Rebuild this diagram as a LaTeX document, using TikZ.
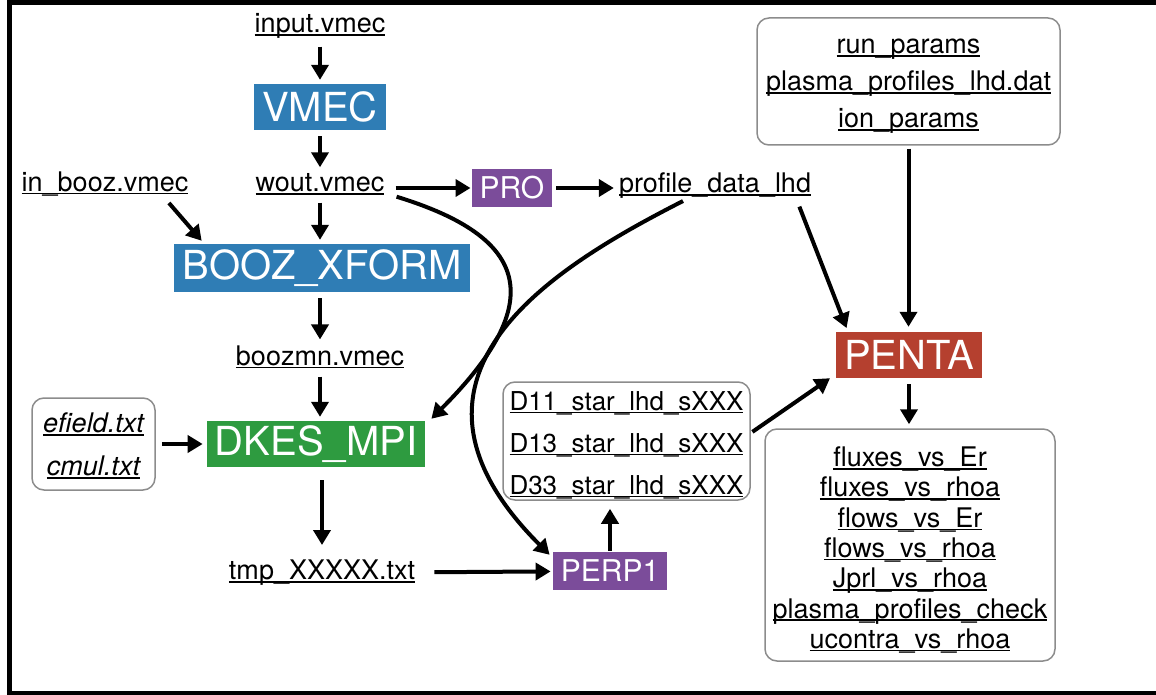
\documentclass[tikz,border=0pt]{standalone}
\usepackage{fontspec}
\setmainfont{TeX Gyre Heros}
\usetikzlibrary{arrows.meta,positioning}
\definecolor{vmecblue}{RGB}{47,125,181}
\definecolor{dkesgreen}{RGB}{46,155,64}
\definecolor{propurple}{RGB}{123,76,154}
\definecolor{pentared}{RGB}{181,64,47}
\newcommand{\fname}[1]{\setbox0\hbox{#1}\rlap{\rule[-3pt]{\wd0}{1.6pt}}\box0}
\tikzset{
    file/.style={
    font=\fontsize{27}{30}\selectfont, inner sep=2pt
    },
    filelist/.style={
    align=center, inner sep=0pt
    },
    prog/.style={
    rectangle, fill=#1, text=white, font=\fontsize{40}{40}\selectfont,
    minimum height=46pt, inner xsep=8pt, inner ysep=0pt
    },
    smallprog/.style={
    prog=#1, font=\fontsize{30}{30}\selectfont, minimum height=38pt
    },
    filebox/.style={
    rectangle, rounded corners=12pt, draw=black!45, line width=1.5pt,
    inner sep=0pt
    },
    flow/.style={
    -{Triangle[length=15pt,width=17pt]}, line width=4pt,
    shorten <=6pt, shorten >=4pt
    },
}
\begin{document}
\begin{tikzpicture}[x=1pt, y=-1pt]
  \useasboundingbox (0,0) rectangle (1156,695);
  \clip (0,0) rectangle (1156,695);
  \draw[line width=5pt] (1170,2.5) -- (9,2.5) -- (9,693) -- (1170,693);

  % programs
  \node[prog=vmecblue] (VMEC) at (320,107) {VMEC};
  \node[prog=vmecblue, minimum height=48pt] (BOOZ) at (322,268) {BOOZ\_XFORM};
  \node[prog=dkesgreen] (DKES) at (316,444) {DKES\_MPI};
  \node[smallprog=propurple] (PRO) at (512,188) {PRO};
  \node[smallprog=propurple] (PERP) at (610,571) {PERP1};
  \node[prog=pentared] (PENTA) at (909,355) {PENTA};

  % files
  \node[file] (input) at (320,26) {\fname{input.vmec}};
  \node[file] (wout) at (320,184) {\fname{wout.vmec}};
  \node[file] (inbooz) at (105,184) {\fname{in\_booz.vmec}};
  \node[file] (boozmn) at (320,357) {\fname{boozmn.vmec}};
  \node[file] (tmp) at (322,573) {\fname{tmp\_XXXXX.txt}};
  \node[file] (profile) at (715,186) {\fname{profile\_data\_lhd}};

  \node[filebox, minimum width=123pt, minimum height=92pt] (EF) at (93.5,444) {};
  \node[filelist, font=\fontsize{27}{43}\selectfont\itshape] (EFlist)
    at ([yshift=-2pt]EF.center) {\fname{efield.txt}\\\fname{cmul.txt}};
  \node[filebox, minimum width=303pt, minimum height=127pt] (RUN) at (908.5,81.5) {};
  \node[filelist, font=\fontsize{27}{37}\selectfont] (RUNlist)
    at ([yshift=-5pt]RUN.center)
    {\fname{run\_params}\\\fname{plasma\_profiles\_lhd.dat}\\\fname{ion\_params}};
  \node[filebox, minimum width=247pt, minimum height=118pt] (DSTAR) at (626.5,441) {};
  \node[filelist, font=\fontsize{26}{42}\selectfont] (DSTARlist)
    at ([yshift=-4pt]DSTAR.center)
    {\fname{D11\_star\_lhd\_sXXX}\\\fname{D13\_star\_lhd\_sXXX}\\\fname{D33\_star\_lhd\_sXXX}};
  \node[filebox, minimum width=290pt, minimum height=232pt] (OUT) at (910,545) {};
  \node[filelist, font=\fontsize{27}{30.3}\selectfont] (OUTlist)
    at ([yshift=-5pt]OUT.center)
    {\fname{fluxes\_vs\_Er}\\\fname{fluxes\_vs\_rhoa}\\\fname{flows\_vs\_Er}\\
     \fname{flows\_vs\_rhoa}\\\fname{Jprl\_vs\_rhoa}\\\fname{plasma\_profiles\_check}\\
     \fname{ucontra\_vs\_rhoa}};

  % data flow
  \draw[flow] (input) -- (VMEC);
  \draw[flow] (VMEC) -- (wout);
  \draw[flow] (wout) -- (wout |- BOOZ.north);
  \draw[flow] ([xshift=60pt]inbooz.south) -- ([xshift=30pt]BOOZ.north west);
  \draw[flow] (boozmn |- BOOZ.south) -- (boozmn);
  \draw[flow] (boozmn) -- (boozmn |- DKES.north);
  \draw[flow] (EF) -- (DKES);
  \draw[flow, shorten <=13pt, shorten >=13pt] (tmp |- DKES.south) -- (tmp);
  \draw[flow, shorten <=17pt, shorten >=2pt] (tmp) -- (PERP);
  \draw[flow, shorten <=1pt, shorten >=8pt] (PERP) -- (PERP |- DSTAR.south);
  \draw[flow, shorten <=9pt, shorten >=1pt] (PRO.west -| wout.east) -- (PRO);
  \draw[flow, shorten <=4pt, shorten >=3pt] (PRO) -- (PRO -| profile.west);
  \draw[flow] ([xshift=-16pt]profile.south east) -- ([xshift=12pt]PENTA.north west);
  \draw[flow, shorten <=3pt, shorten >=5pt] (RUN) -- (RUN |- PENTA.north);
  \draw[flow, shorten <=2pt, shorten >=0pt] ([yshift=8pt]DSTAR.east) -- ([xshift=-6pt]PENTA.south west);
  \draw[flow] (PENTA) -- (PENTA |- OUT.north);
  \draw[flow, shorten <=0pt, shorten >=0pt] ([xshift=10pt]wout.south east)
    to[out=-17, in=45, out distance=140pt, in distance=165pt] ([xshift=6pt,yshift=2pt]DKES.north east);
  \draw[flow, shorten <=0pt, shorten >=0pt] ([xshift=-32pt]profile.south)
    to[out=207, in=135, out distance=150pt, in distance=250pt] ([xshift=-3pt,yshift=-3pt]PERP.north west);
\end{tikzpicture}
\end{document}
